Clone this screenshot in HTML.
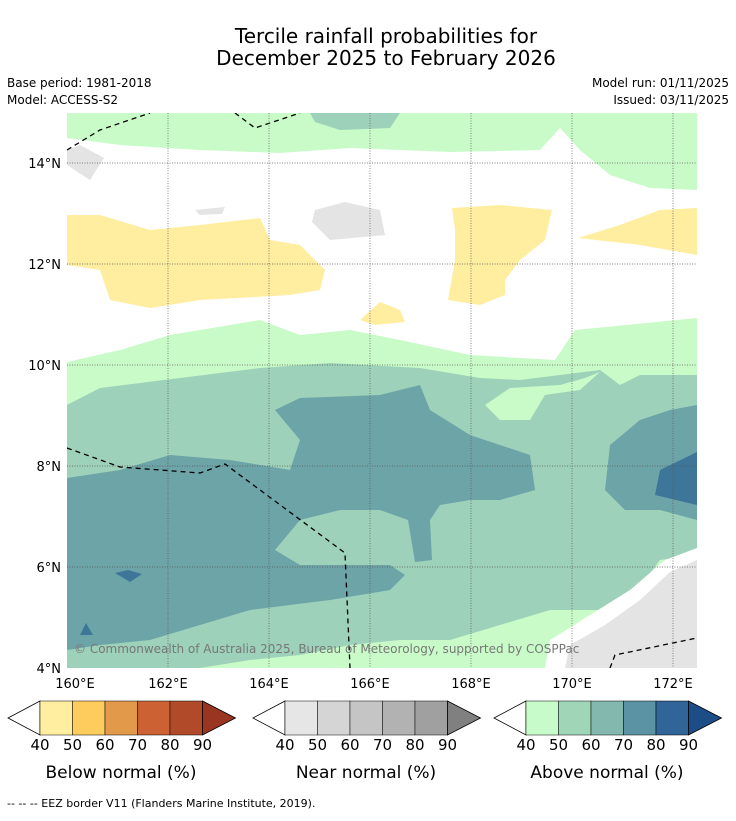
<!DOCTYPE html>
<html><head><meta charset="utf-8"><style>
body{margin:0;background:#fff;font-family:"Liberation Sans","DejaVu Sans",sans-serif}
</style></head><body>
<svg id="s" width="736" height="816" xmlns="http://www.w3.org/2000/svg" font-family="DejaVu Sans, Liberation Sans, sans-serif">
<rect width="736" height="816" fill="#fff"/>
<text x="386" y="43" text-anchor="middle" font-size="20">Tercile rainfall probabilities for</text>
<text x="386" y="65" text-anchor="middle" font-size="20">December 2025 to February 2026</text>
<text x="7" y="87" font-size="12">Base period: 1981-2018</text>
<text x="7" y="104" font-size="12">Model: ACCESS-S2</text>
<text x="729" y="87" font-size="12" text-anchor="end">Model run: 01/11/2025</text>
<text x="729" y="104" font-size="12" text-anchor="end">Issued: 03/11/2025</text>
<clipPath id="c"><rect x="67" y="113" width="630" height="555"/></clipPath>
<g id="map" clip-path="url(#c)"></g>
<g id="axes"></g>
<text x="74" y="653" font-size="12" fill="#777">© Commonwealth of Australia 2025, Bureau of Meteorology, supported by COSPPac</text>
<g id="bars"></g>
<text x="7" y="807" font-size="11">--  --  -- EEZ border V11 (Flanders Marine Institute, 2019).</text>
</svg>
<script>
const lonTicks=[160,162,164,166,168,170,172];
const latTicks=[4,6,8,10,12,14];
// regions in pixel-derived lon/lat via helper (points given as [lon,lat])
function P(x,y){return [160+(x-67)/50.5, 4+(668-y)/50.5];}
const regions=[
 ["light-green-south","#c9fbc8",[[67,362],[120,350],[170,335],[260,320],[300,335],[350,330],[400,340],[470,355],[555,360],[575,330],[697,318],[697,668],[67,668]].map(p=>P(...p))],
 ["light-green-north","#c9fbc8",[[67,113],[697,113],[697,190],[650,188],[610,175],[580,150],[560,128],[540,150],[450,152],[350,148],[280,153],[200,150],[120,145],[67,138]].map(p=>P(...p))],
 ["medium-green-north","#9dd1b9",[[310,113],[400,113],[390,128],[340,130],[315,122]].map(p=>P(...p))],
 ["medium-green","#9dd1b9",[[67,405],[100,388],[180,378],[260,368],[330,363],[420,368],[480,378],[520,380],[560,375],[600,370],[620,385],[640,375],[697,375],[697,555],[660,560],[630,600],[600,610],[550,610],[500,625],[450,640],[400,640],[350,645],[300,655],[250,660],[200,668],[67,668]].map(p=>P(...p))],
 ["light-green-patch","#c9fbc8",[[485,405],[510,388],[560,385],[585,378],[600,372],[580,390],[545,395],[530,420],[500,420]].map(p=>P(...p))],
 ["teal-main","#6ca4a8",[[67,478],[120,470],[170,455],[230,460],[290,470],[300,440],[275,410],[300,398],[380,395],[420,385],[430,410],[470,435],[500,445],[530,455],[535,490],[500,500],[470,500],[440,505],[430,520],[432,560],[415,562],[408,520],[380,510],[340,510],[300,520],[275,550],[300,565],[390,565],[405,575],[390,590],[330,600],[250,610],[200,625],[150,640],[100,645],[67,650]].map(p=>P(...p))],
 ["teal-east","#6ca4a8",[[697,405],[670,410],[640,420],[610,445],[605,490],[625,510],[660,510],[697,520]].map(p=>P(...p))],
 ["blue-east","#3d7698",[[697,452],[660,470],[655,495],[697,505]].map(p=>P(...p))],
 ["blue-blob-1","#3d7698",[[115,573],[128,570],[142,574],[130,582]].map(p=>P(...p))],
 ["blue-blob-2","#3d7698",[[80,635],[86,623],[93,635]].map(p=>P(...p))],
 ["yellow-west","#ffeda0",[[67,215],[100,215],[150,230],[200,225],[260,218],[270,240],[300,245],[325,270],[320,290],[290,295],[200,300],[150,308],[110,300],[100,270],[67,265]].map(p=>P(...p))],
 ["yellow-small","#ffeda0",[[360,320],[380,302],[400,310],[405,322],[375,325]].map(p=>P(...p))],
 ["yellow-middle","#ffeda0",[[452,208],[500,205],[552,210],[545,240],[520,260],[505,280],[505,295],[480,305],[448,300],[455,260],[455,230]].map(p=>P(...p))],
 ["yellow-east","#ffeda0",[[578,238],[620,225],[660,210],[697,208],[697,255],[640,245]].map(p=>P(...p))],
 ["gray-1","#e4e4e4",[[315,210],[345,202],[380,210],[385,235],[330,240],[312,222]].map(p=>P(...p))],
 ["gray-2","#e4e4e4",[[195,210],[225,207],[222,214],[200,215]].map(p=>P(...p))],
 ["gray-3","#e4e4e4",[[67,150],[80,145],[104,158],[90,180],[67,165]].map(p=>P(...p))],
 ["white-band-se","#ffffff",[[545,668],[550,640],[590,615],[630,590],[665,560],[697,548],[697,668]].map(p=>P(...p))],
 ["gray-se","#e4e4e4",[[565,668],[570,645],[605,625],[640,600],[670,572],[697,560],[697,668]].map(p=>P(...p))]
];
const eez=[
 [[67,150],[100,130],[150,113]],
 [[235,113],[255,128],[300,113]],
 [[67,448],[120,467],[200,473],[225,464],[345,553],[350,668]],
 [[610,668],[615,655],[697,638]]
].map(l=>l.map(p=>P(...p)));
const X=lon=>67+(lon-160)*50.5, Y=lat=>668-(lat-4)*50.5;
const NS="http://www.w3.org/2000/svg";
const map=document.getElementById('map');
function mk(t,a,par){const e=document.createElementNS(NS,t);for(const k in a)e.setAttribute(k,a[k]);par.appendChild(e);return e;}
regions.forEach(r=>{const e=mk('polygon',{points:r[2].map(p=>X(p[0])+','+Y(p[1])).join(' '),fill:r[1]},map);

});
const ax=document.getElementById('axes');
lonTicks.forEach(l=>{if(l>160){const g=mk('line',{x1:X(l),x2:X(l),y1:113,y2:668,stroke:'#555','stroke-width':0.7,'stroke-dasharray':'1,1.5'},ax);

}
const t=mk('text',{x:X(l)+(l==160?8:0),y:688,'font-size':13,'text-anchor':'middle'},ax);t.textContent=l+'°E';

});
latTicks.forEach(l=>{if(l>4){const g=mk('line',{x1:67,x2:697,y1:Y(l),y2:Y(l),stroke:'#555','stroke-width':0.7,'stroke-dasharray':'1,1.5'},map);

}
const t=mk('text',{x:61,y:Y(l)+5,'font-size':13,'text-anchor':'end'},ax);t.textContent=l+'°N';

});
eez.forEach(l=>{const e=mk('polyline',{points:l.map(p=>X(p[0])+','+Y(p[1])).join(' '),fill:'none',stroke:'#000','stroke-width':1.3,'stroke-dasharray':'5,4'},map);

});
const bars=document.getElementById('bars');
const cbLabels=['40','50','60','70','80','90'];
const cbs=[
 ['below-normal-colorbar',40,['#ffeda0','#fecc5c','#e3994a','#cc6133','#b04a29'],'#993520','Below normal (%)'],
 ['near-normal-colorbar',285,['#e6e6e6','#d5d5d5','#c5c5c5','#b2b2b2','#a0a0a0'],'#808080','Near normal (%)'],
 ['above-normal-colorbar',526,['#c7fbca','#a0d6b8','#82b8ae','#5b93a5','#316599'],'#1d4d86','Above normal (%)']
];
cbs.forEach(c=>{const g=mk('g',{},bars);


const x0=c[1],w=32.5;
mk('polygon',{points:`${x0},701 ${x0-32},718 ${x0},735`,fill:'#fff',stroke:'#000','stroke-width':0.8},g);
c[2].forEach((col,i)=>mk('rect',{x:x0+i*w,y:701,width:w,height:34,fill:col,stroke:'#000','stroke-width':0.5},g));
mk('polygon',{points:`${x0+5*w},701 ${x0+5*w+33},718 ${x0+5*w},735`,fill:c[3],stroke:'#000','stroke-width':0.8},g);
cbLabels.forEach((s,i)=>{const t=mk('text',{x:x0+i*w,y:750,'font-size':15,'text-anchor':'middle'},g);t.textContent=s;});
const t=mk('text',{x:x0+81,y:778,'font-size':17,'text-anchor':'middle'},g);t.textContent=c[4];
});
</script>
</body></html>
